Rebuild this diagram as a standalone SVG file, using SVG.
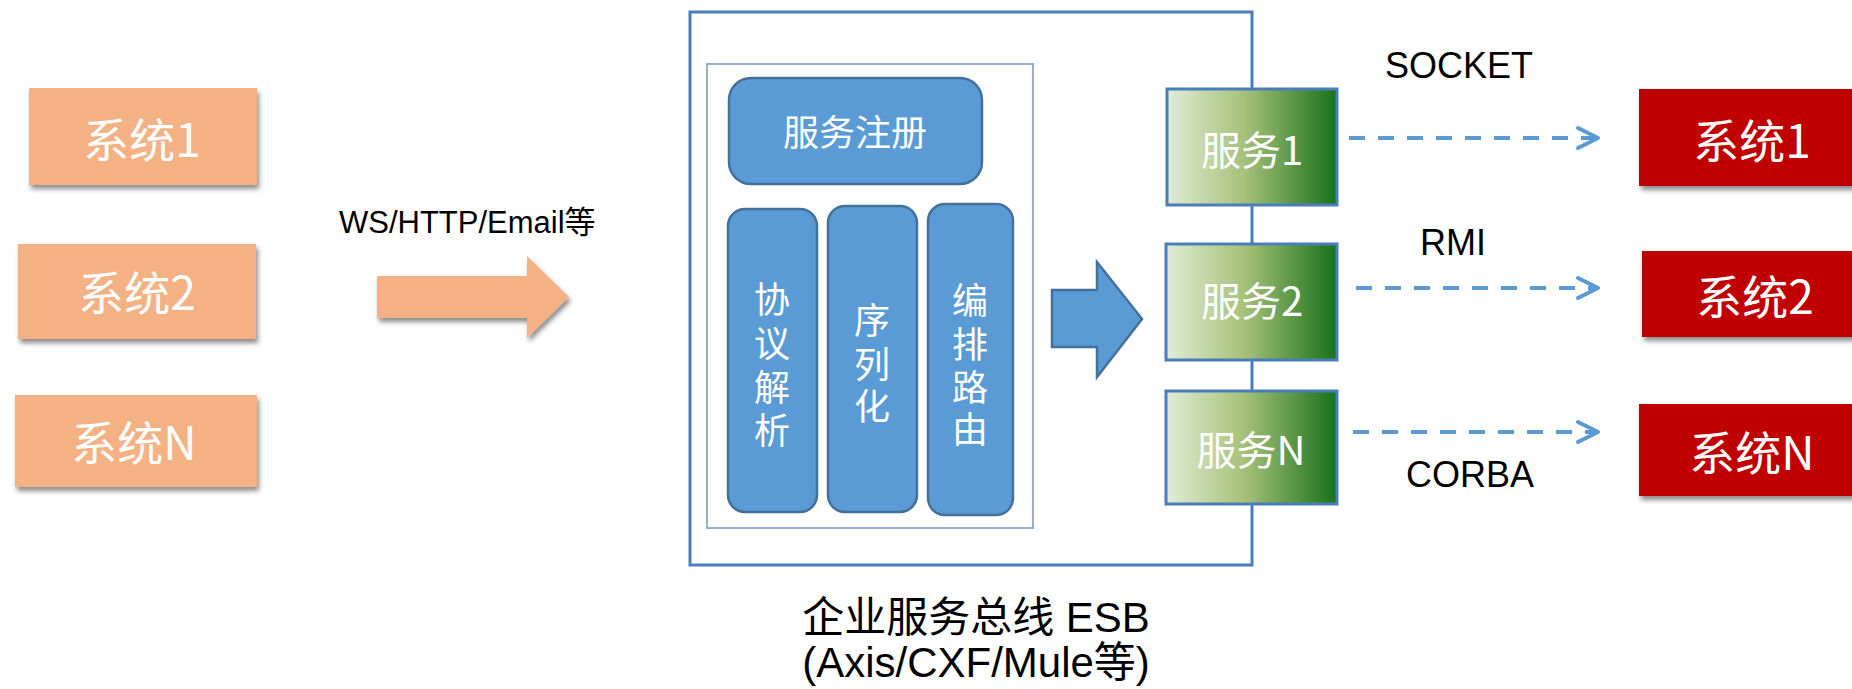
<svg xmlns="http://www.w3.org/2000/svg" width="1852" height="689" viewBox="0 0 1852 689">
<style>
.sys{font-family:"Noto Sans CJK SC","Liberation Sans",sans-serif;font-size:46px;fill:#fff;text-anchor:middle;dominant-baseline:central}
.lbl{font-family:"Liberation Sans","Noto Sans CJK SC",sans-serif;fill:#000}
.blue{fill:#5B9BD5;stroke:#41719C;stroke-width:2.5}
.btxt{font-family:"Noto Sans CJK SC",sans-serif;font-size:36px;fill:#fff;text-anchor:middle;dominant-baseline:central}
.svc{fill:url(#green);stroke:#4A7EBB;stroke-width:3}
.svctxt{font-family:"Noto Sans CJK SC","Liberation Sans",sans-serif;font-size:40px;fill:#fff;text-anchor:middle;dominant-baseline:central}
.dash{fill:none;stroke:#5B9BD5;stroke-width:4;stroke-dasharray:16 13}
.head{fill:none;stroke:#5B9BD5;stroke-width:4;stroke-linecap:round;stroke-linejoin:round}
.orange{fill:#F4B183}
.red{fill:#C00000}
</style>
<defs>
<linearGradient id="green" x1="0" y1="0" x2="1" y2="0">
<stop offset="0" stop-color="#E1ECD6"/>
<stop offset="0.45" stop-color="#A7C27A"/>
<stop offset="1" stop-color="#18701A"/>
</linearGradient>
<filter id="sh" x="-10%" y="-10%" width="125%" height="135%">
<feDropShadow dx="2" dy="4" stdDeviation="2.5" flood-color="#000" flood-opacity="0.45"/>
</filter>
</defs>
<rect width="1852" height="689" fill="#fff"/>

<g id="left-sys1"><rect class="orange" x="29" y="88" width="228" height="97" filter="url(#sh)"/><text class="sys" x="142" y="137">系统1</text></g>
<g id="left-sys2"><rect class="orange" x="18" y="244" width="238" height="95" filter="url(#sh)"/><text class="sys" x="137" y="290">系统2</text></g>
<g id="left-sysN"><rect class="orange" x="15" y="395" width="242" height="92" filter="url(#sh)"/><text class="sys" x="134" y="440">系统N</text></g>

<g id="input-arrow">
<polygon class="orange" points="377,276 527,276 527,256 569,297 527,338 527,318 377,318" filter="url(#sh)"/>
<text class="lbl" x="339" y="233" font-size="31">WS/HTTP/Email等</text>
</g>

<g id="esb">
<rect x="690" y="12" width="562" height="553" fill="#fff" stroke="#4A7EBB" stroke-width="3"/>
<rect x="707" y="64" width="326" height="464" fill="#fff" stroke="#7395C4" stroke-width="1.5"/>
<text class="lbl" x="976" y="632" font-size="42" text-anchor="middle">企业服务总线 ESB</text>
<text class="lbl" x="976" y="677" font-size="42" text-anchor="middle">(Axis/CXF/Mule等)</text>
</g>

<g id="register"><rect class="blue" x="729" y="78" width="253" height="106" rx="22"/><text class="btxt" x="855" y="130">服务注册</text></g>
<g id="col-protocol"><rect class="blue" x="728" y="209" width="89" height="303" rx="17"/>
<text class="btxt" x="772"><tspan x="772" y="297">协</tspan><tspan x="772" y="341">议</tspan><tspan x="772" y="385">解</tspan><tspan x="772" y="428">析</tspan></text></g>
<g id="col-serialize"><rect class="blue" x="828" y="206" width="89" height="306" rx="17"/>
<text class="btxt" x="872"><tspan x="872" y="318">序</tspan><tspan x="872" y="362">列</tspan><tspan x="872" y="404">化</tspan></text></g>
<g id="col-routing"><rect class="blue" x="928" y="204" width="85" height="311" rx="17"/>
<text class="btxt" x="970"><tspan x="970" y="298">编</tspan><tspan x="970" y="342">排</tspan><tspan x="970" y="385">路</tspan><tspan x="970" y="427">由</tspan></text></g>

<g id="esb-arrow"><polygon class="blue" points="1052,290 1097,290 1097,262 1142,319 1097,377 1097,347 1052,347"/></g>

<g id="svc1"><rect class="svc" x="1167" y="89" width="170" height="116"/><text class="svctxt" x="1252" y="148">服务1</text></g>
<g id="svc2"><rect class="svc" x="1166" y="244" width="171" height="116"/><text class="svctxt" x="1252" y="299">服务2</text></g>
<g id="svcN"><rect class="svc" x="1166" y="391" width="171" height="113"/><text class="svctxt" x="1251" y="448">服务N</text></g>

<g id="connectors">
<path class="dash" d="M1349,138 H1594"/>
<polyline class="head" points="1578,128 1598,138 1578,148"/>
<path class="dash" d="M1356,288 H1594"/>
<polyline class="head" points="1578,278 1598,288 1578,298"/>
<path class="dash" d="M1353,432 H1594"/>
<polyline class="head" points="1578,422 1598,432 1578,442"/>
<text class="lbl" x="1385" y="78" font-size="36">SOCKET</text>
<text class="lbl" x="1420" y="255" font-size="36">RMI</text>
<text class="lbl" x="1406" y="487" font-size="36">CORBA</text>
</g>

<g id="right-sys1"><rect class="red" x="1639" y="89" width="230" height="97" filter="url(#sh)"/><text class="sys" x="1752" y="138">系统1</text></g>
<g id="right-sys2"><rect class="red" x="1642" y="251" width="230" height="86" filter="url(#sh)"/><text class="sys" x="1755" y="294">系统2</text></g>
<g id="right-sysN"><rect class="red" x="1639" y="404" width="230" height="92" filter="url(#sh)"/><text class="sys" x="1752" y="450">系统N</text></g>
</svg>
